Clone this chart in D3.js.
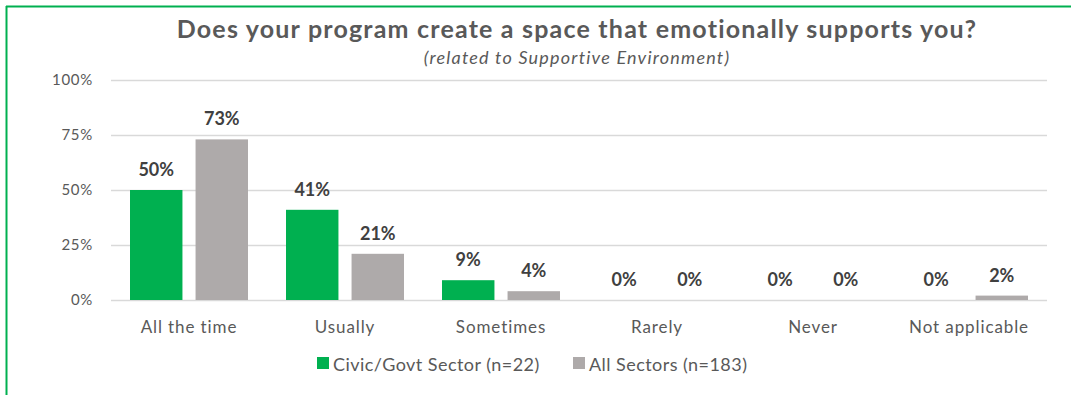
<!DOCTYPE html>
<html>
<head>
<meta charset="utf-8">
<script src="https://cdn.jsdelivr.net/npm/d3@7"></script>
<style>
  html, body { margin: 0; padding: 0; background: #fff; }
  svg { display: block; }
  svg text { font-family: Lato, "Open Sans", sans-serif; }
</style>
</head>
<body>
<svg id="chart" width="1071" height="395"></svg>
<script>
const categories = ["All the time", "Usually", "Sometimes", "Rarely", "Never", "Not applicable"];
const seriesNames = ["Civic/Govt Sector (n=22)", "All Sectors (n=183)"];
const civicValues = [50, 41, 9, 0, 0, 0];
const allValues = [73, 21, 4, 0, 0, 2];
const yTicks = [0, 25, 50, 75, 100];
const colors = ["#00B050", "#AEAAAA"];

const svg = d3.select("#chart");
const W = 1071, H = 395;
const plot = { left: 111, right: 1047, top: 80, bottom: 300 };

// frame: green line on top and left edges
svg.append("line").attr("x1", 6).attr("x2", W).attr("y1", 6.5).attr("y2", 6.5)
  .attr("stroke", "#00B050").attr("stroke-width", 2);
svg.append("line").attr("x1", 6.5).attr("x2", 6.5).attr("y1", 6).attr("y2", H)
  .attr("stroke", "#00B050").attr("stroke-width", 2);

const x = d3.scaleBand().domain(categories).range([plot.left, plot.right]).paddingInner(0).paddingOuter(0);
const inner = d3.scaleBand().domain(seriesNames).range([19, 137]).paddingInner(0.2);
const y = d3.scaleLinear().domain([0, 100]).range([plot.bottom, plot.top]);

// gridlines + y labels
const yAxis = d3.axisLeft(y).tickValues(yTicks).tickSize(-(plot.right - plot.left)).tickFormat(d => d + "%").tickPadding(18);
const gy = svg.append("g").attr("transform", `translate(${plot.left},0)`).call(yAxis);
gy.attr("font-family", null);
gy.select(".domain").remove();
gy.selectAll(".tick line").attr("stroke", "#D9D9D9").attr("stroke-width", 1.5);
gy.selectAll(".tick text").attr("fill", "#595959").attr("font-size", 15).attr("letter-spacing", 0.7);

// bars
const data = categories.map((c, i) => ({ cat: c, vals: [civicValues[i], allValues[i]] }));
const groups = svg.append("g").selectAll("g").data(data).join("g")
  .attr("transform", d => `translate(${x(d.cat)},0)`);

groups.selectAll("rect").data(d => d.vals.map((v, j) => ({ v, s: seriesNames[j], j })))
  .join("rect")
  .attr("x", d => inner(d.s))
  .attr("width", inner.bandwidth())
  .attr("y", d => y(d.v))
  .attr("height", d => y(0) - y(d.v))
  .attr("fill", d => colors[d.j]);

groups.selectAll("text").data(d => d.vals.map((v, j) => ({ v, s: seriesNames[j], j })))
  .join("text")
  .attr("x", d => inner(d.s) + inner.bandwidth() / 2)
  .attr("y", d => y(d.v) - 14)
  .attr("text-anchor", "middle")
  .attr("font-size", 18)
  .attr("font-weight", "bold")
  .attr("fill", "#404040")
  .text(d => d.v + "%");

// x axis labels
const xAxis = d3.axisBottom(x).tickSize(0).tickPadding(21);
const gx = svg.append("g").attr("transform", `translate(0,${plot.bottom})`).call(xAxis);
gx.attr("font-family", null);
gx.select(".domain").remove();
gx.selectAll(".tick text").attr("fill", "#595959").attr("font-size", 17).attr("letter-spacing", 0.9);

// title
svg.append("text").attr("x", 577).attr("y", 38).attr("text-anchor", "middle")
  .attr("font-size", 25).attr("font-weight", "bold").attr("fill", "#595959")
  .attr("letter-spacing", 1.2)
  .text("Does your program create a space that emotionally supports you?");
svg.append("text").attr("x", 577).attr("y", 64).attr("text-anchor", "middle")
  .attr("font-size", 18).attr("font-style", "italic").attr("fill", "#595959")
  .attr("letter-spacing", 1.2)
  .text("(related to Supportive Environment)");

// legend
const legendX = [317, 573];
const lg = svg.append("g").selectAll("g").data(seriesNames).join("g")
  .attr("transform", (d, i) => `translate(${legendX[i]},357)`);
lg.append("rect").attr("width", 12).attr("height", 12).attr("fill", (d, i) => colors[i]);
lg.append("text").attr("x", 16).attr("y", 14).attr("font-size", 18).attr("fill", "#595959")
  .attr("letter-spacing", 0.45).text(d => d);
</script>
</body>
</html>
